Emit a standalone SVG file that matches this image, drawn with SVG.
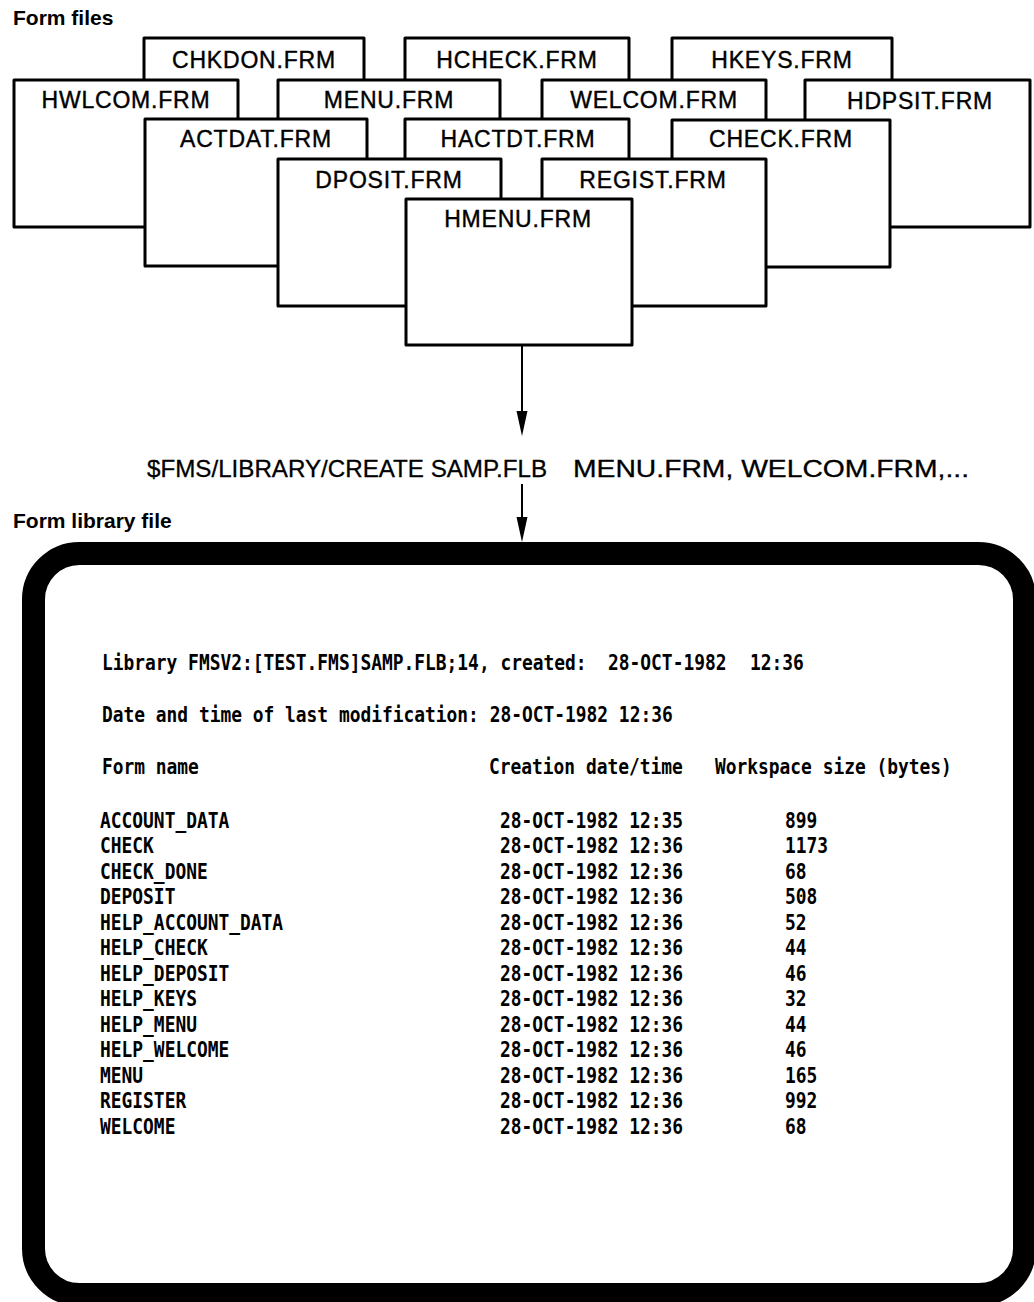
<svg xmlns="http://www.w3.org/2000/svg" width="1034" height="1302" viewBox="0 0 1034 1302">
<style>
.box{fill:#fff;stroke:#000;stroke-width:3;stroke-linejoin:round}
.lbl{font-family:"Liberation Sans",Arial,sans-serif;font-size:23px;letter-spacing:0.8px;text-anchor:middle;fill:#000;stroke:#000;stroke-width:0.4}
.ttl{font-family:"Liberation Sans",Arial,sans-serif;font-size:21px;font-weight:bold;fill:#000}
.cmd{font-family:"Liberation Sans",Arial,sans-serif;font-size:24px;fill:#000;stroke:#000;stroke-width:0.3}
.mono{font-family:"DejaVu Sans Mono","Liberation Mono",monospace;font-size:22px;font-weight:bold;fill:#000}
.conn{stroke:#000;stroke-width:2;fill:none}
</style>
<rect width="1034" height="1302" fill="#fff"/>
<text class="ttl" x="13" y="25">Form files</text>
<g id="chkdon"><rect class="box" x="144" y="38" width="220" height="147"/><text class="lbl" x="254" y="68">CHKDON.FRM</text></g>
<g id="hcheck"><rect class="box" x="405" y="38" width="224" height="147"/><text class="lbl" x="517" y="68">HCHECK.FRM</text></g>
<g id="hkeys"><rect class="box" x="672" y="38" width="220" height="147"/><text class="lbl" x="782" y="68">HKEYS.FRM</text></g>
<g id="hwlcom"><rect class="box" x="14" y="80" width="224" height="147"/><text class="lbl" x="126" y="108">HWLCOM.FRM</text></g>
<g id="menu"><rect class="box" x="278" y="80" width="222" height="147"/><text class="lbl" x="389" y="108">MENU.FRM</text></g>
<g id="welcom"><rect class="box" x="542" y="80" width="224" height="147"/><text class="lbl" x="654" y="108">WELCOM.FRM</text></g>
<g id="hdpsit"><rect class="box" x="805" y="80" width="225" height="147"/><text class="lbl" x="920" y="109">HDPSIT.FRM</text></g>
<g id="actdat"><rect class="box" x="145" y="119" width="222" height="147"/><text class="lbl" x="256" y="147">ACTDAT.FRM</text></g>
<g id="hactdt"><rect class="box" x="405" y="119" width="224" height="147"/><text class="lbl" x="518" y="147">HACTDT.FRM</text></g>
<g id="check"><rect class="box" x="672" y="120" width="218" height="147"/><text class="lbl" x="781" y="147">CHECK.FRM</text></g>
<g id="dposit"><rect class="box" x="278" y="159" width="223" height="147"/><text class="lbl" x="389" y="188">DPOSIT.FRM</text></g>
<g id="regist"><rect class="box" x="542" y="159" width="224" height="147"/><text class="lbl" x="653" y="188">REGIST.FRM</text></g>
<g id="hmenu"><rect class="box" x="406" y="199" width="226" height="146"/><text class="lbl" x="518" y="227">HMENU.FRM</text></g>
<g id="connectors">
<line class="conn" x1="522" y1="345" x2="522" y2="414"/>
<polygon points="516.5,411 527.5,411 522,436" fill="#000"/>
<line class="conn" x1="522" y1="484" x2="522" y2="520"/>
<polygon points="516.5,517 527.5,517 522,542" fill="#000"/>
</g>
<g id="command">
<text class="cmd" x="147" y="477" textLength="400" lengthAdjust="spacingAndGlyphs">$FMS/LIBRARY/CREATE SAMP.FLB</text>
<text class="cmd" x="573" y="477" textLength="396" lengthAdjust="spacingAndGlyphs">MENU.FRM, WELCOM.FRM,...</text>
</g>
<text class="ttl" x="13" y="528">Form library file</text>
<g id="library">
<rect x="33.5" y="553.5" width="991" height="741" rx="46" ry="46" fill="#fff" stroke="#000" stroke-width="23"/>
<g transform="scale(0.8132,1)" class="mono">
<text x="125.4" y="670">Library FMSV2:[TEST.FMS]SAMP.FLB;14, created:</text>
<text x="747.7" y="670">28-OCT-1982</text>
<text x="922.3" y="670">12:36</text>
<text x="125.4" y="722">Date and time of last modification: 28-OCT-1982 12:36</text>
<text x="125.4" y="774">Form name</text>
<text x="601.3" y="774">Creation date/time</text>
<text x="879.2" y="774">Workspace size (bytes)</text>
<g>
<text x="123" y="828">ACCOUNT_DATA</text>
<text x="123" y="853.5">CHECK</text>
<text x="123" y="879">CHECK_DONE</text>
<text x="123" y="904.5">DEPOSIT</text>
<text x="123" y="930">HELP_ACCOUNT_DATA</text>
<text x="123" y="955.5">HELP_CHECK</text>
<text x="123" y="981">HELP_DEPOSIT</text>
<text x="123" y="1006.5">HELP_KEYS</text>
<text x="123" y="1032">HELP_MENU</text>
<text x="123" y="1057.5">HELP_WELCOME</text>
<text x="123" y="1083">MENU</text>
<text x="123" y="1108.5">REGISTER</text>
<text x="123" y="1134">WELCOME</text>
</g>
<g>
<text x="614.9" y="828">28-OCT-1982 12:35</text>
<text x="614.9" y="853.5">28-OCT-1982 12:36</text>
<text x="614.9" y="879">28-OCT-1982 12:36</text>
<text x="614.9" y="904.5">28-OCT-1982 12:36</text>
<text x="614.9" y="930">28-OCT-1982 12:36</text>
<text x="614.9" y="955.5">28-OCT-1982 12:36</text>
<text x="614.9" y="981">28-OCT-1982 12:36</text>
<text x="614.9" y="1006.5">28-OCT-1982 12:36</text>
<text x="614.9" y="1032">28-OCT-1982 12:36</text>
<text x="614.9" y="1057.5">28-OCT-1982 12:36</text>
<text x="614.9" y="1083">28-OCT-1982 12:36</text>
<text x="614.9" y="1108.5">28-OCT-1982 12:36</text>
<text x="614.9" y="1134">28-OCT-1982 12:36</text>
</g>
<g>
<text x="965.3" y="828">899</text>
<text x="965.3" y="853.5">1173</text>
<text x="965.3" y="879">68</text>
<text x="965.3" y="904.5">508</text>
<text x="965.3" y="930">52</text>
<text x="965.3" y="955.5">44</text>
<text x="965.3" y="981">46</text>
<text x="965.3" y="1006.5">32</text>
<text x="965.3" y="1032">44</text>
<text x="965.3" y="1057.5">46</text>
<text x="965.3" y="1083">165</text>
<text x="965.3" y="1108.5">992</text>
<text x="965.3" y="1134">68</text>
</g>
</g>
</g>
</svg>
